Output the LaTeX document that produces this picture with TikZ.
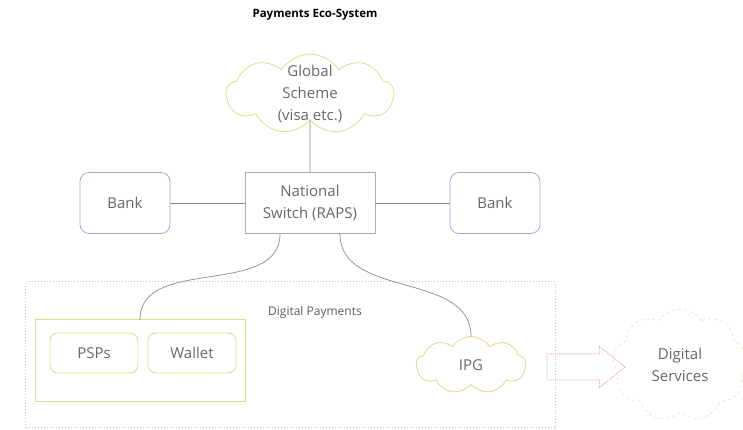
\documentclass[tikz,border=0pt]{standalone}
\usepackage{fontspec}
\setmainfont{Open Sans}
\usetikzlibrary{shapes.symbols,shapes.arrows}
\definecolor{txtgray}{HTML}{666666}
\definecolor{linegray}{HTML}{8A8A8A}
\definecolor{leaf}{HTML}{D2E289}
\definecolor{sand}{HTML}{E8D286}
\definecolor{bankblue}{HTML}{A3A9D6}
\definecolor{dotpink}{HTML}{CFBDC6}
\definecolor{arrpink}{HTML}{E3A9C2}
\definecolor{fog}{HTML}{ECE5C8}
\tikzset{
  txt/.style={text=txtgray,font=\fontsize{15}{22}\selectfont,align=center},
  bankbox/.style={draw=bankblue,rounded corners=9pt,minimum width=90pt,minimum height=61pt,line width=0.8pt,txt},
  subbox/.style={draw=leaf,rounded corners=8pt,minimum width=88pt,minimum height=40pt,line width=0.8pt,txt},
  puff/.style={cloud,cloud puffs=9,cloud puff arc=115,aspect=2,inner sep=0pt,line width=0.8pt},
  link/.style={draw=linegray,line width=0.7pt}
}
\begin{document}
\begin{tikzpicture}[x=1pt,y=1pt]
  \useasboundingbox (0,0) rectangle (743,430);
  \node[font=\fontsize{11.5}{13}\selectfont\bfseries] (title) at (315,415) {Payments Eco-System};
  % upper level
  \node[puff,draw=leaf,minimum width=168pt,minimum height=80pt] (gs) at (310,336) {};
  \node[txt] (gstext) at (gs.center) {Global\\Scheme\\(visa etc.)};
  \node[draw=linegray!70,minimum width=130pt,minimum height=61pt,line width=0.8pt,txt] (ns) at (310,227) {National\\Switch (RAPS)};
  \node[bankbox] (bl) at (125,227) {Bank};
  \node[bankbox] (br) at (495,227) {Bank};
  % digital payments area
  \draw[dotpink,dotted,line width=1pt] (25,2) rectangle (555,148);
  \node[text=txtgray!90!black,font=\fontsize{12}{14}\selectfont] (dp) at (315,118) {Digital Payments};
  \node[draw=leaf,line width=1pt,minimum width=210pt,minimum height=82pt] (grp) at (140,69) {};
  \node[subbox] (psp) at (94,77) {PSPs};
  \node[subbox] (wal) at (192,77) {Wallet};
  \node[puff,draw=sand,minimum width=110pt,minimum height=57pt] (ipg) at (471,65) {};
  \node[txt] (ipgtext) at (ipg.center) {IPG};
  \node[single arrow,draw=arrpink,densely dotted,line width=1pt,minimum height=78pt,inner xsep=0pt,inner ysep=12.5pt,single arrow head extend=7.5pt,single arrow tip angle=77] (arr) at (578,63) {};
  \node[puff,draw=fog,dashed,minimum width=135pt,minimum height=112pt,aspect=1.2] (ds) at (680,65) {};
  \node[txt] (dstext) at (ds.center) {Digital\\Services};
  % connectors
  \draw[link] (ns.north) -- (gs.south);
  \draw[link] (bl.east) -- (ns.west);
  \draw[link] (ns.east) -- (br.west);
  \draw[link] (ns.south-|280,0) to[out=-90,in=90] (grp.north-|140,0);
  \draw[link] (ns.south-|340,0) to[out=-90,in=90] (ipg.north);
\end{tikzpicture}
\end{document}
